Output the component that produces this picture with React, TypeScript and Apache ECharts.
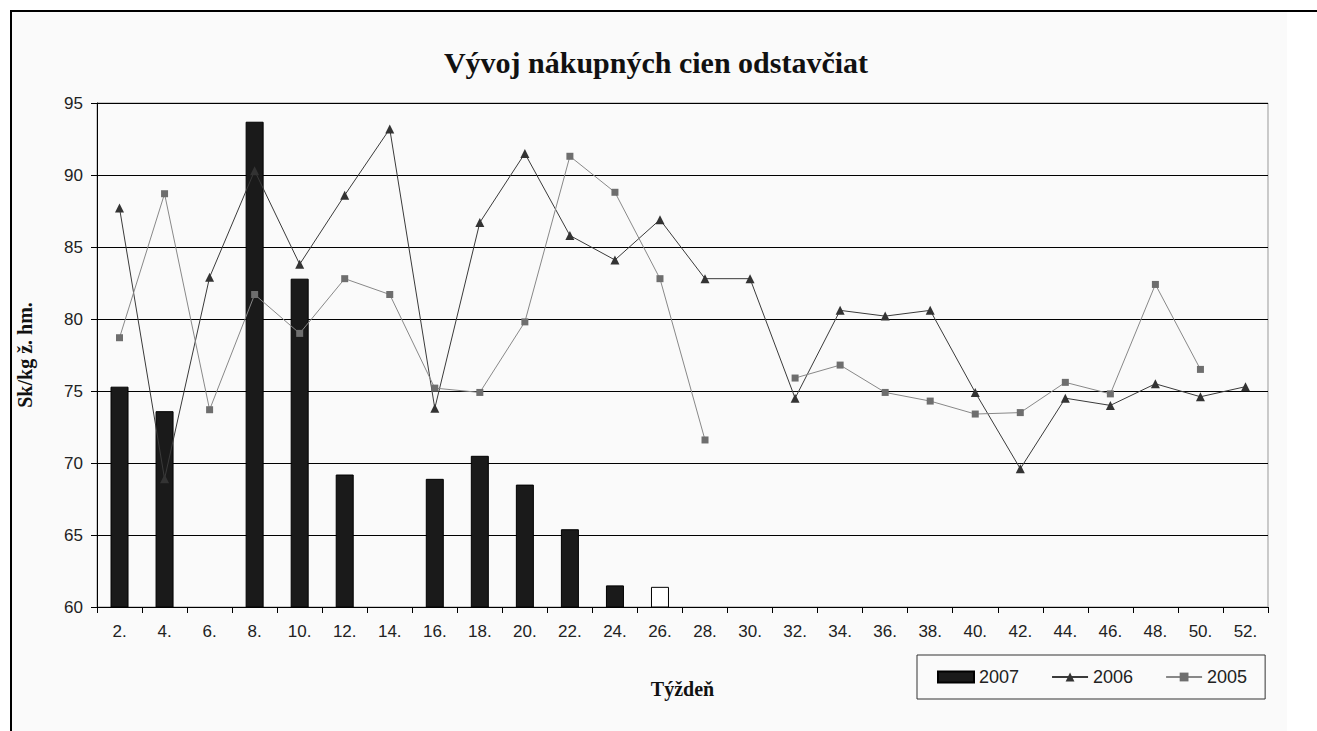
import React, { useEffect, useRef } from "react";
import * as echarts from "echarts";

const weeks = ["2.", "4.", "6.", "8.", "10.", "12.", "14.", "16.", "18.", "20.", "22.", "24.", "26.", "28.", "30.", "32.", "34.", "36.", "38.", "40.", "42.", "44.", "46.", "48.", "50.", "52."];

const values2007: (number | null)[] = [75.3, 73.6, null, 93.7, 82.8, 69.2, null, 68.9, 70.5, 68.5, 65.4, 61.5, 61.4, null, null, null, null, null, null, null, null, null, null, null, null, null];

const values2006: (number | null)[] = [87.7, 68.9, 82.9, 90.3, 83.8, 88.6, 93.2, 73.8, 86.7, 91.5, 85.8, 84.1, 86.9, 82.8, 82.8, 74.5, 80.6, 80.2, 80.6, 74.9, 69.6, 74.5, 74.0, 75.5, 74.6, 75.3];

const values2005: (number | null)[] = [78.7, 88.7, 73.7, 81.7, 79.0, 82.8, 81.7, 75.2, 74.9, 79.8, 91.3, 88.8, 82.8, 71.6, null, 75.9, 76.8, 74.9, 74.3, 73.4, 73.5, 75.6, 74.8, 82.4, 76.5, null];

const yTicks = { min: 60, max: 95, interval: 5 };

const sans = "'Liberation Sans', Arial, sans-serif";
const serif = "'Liberation Serif', 'Times New Roman', serif";

export default function App() {
  const ref = useRef<HTMLDivElement>(null);

  useEffect(() => {
    if (!ref.current) return;
    const chart = echarts.init(ref.current, undefined, { renderer: "svg" });

    const barData = values2007.map((v, i) => {
      if (v === null) return null;
      if (weeks[i] === "26.") {
        return { value: v, itemStyle: { color: "#ffffff", borderColor: "#000", borderWidth: 1 } };
      }
      return v;
    });

    chart.setOption({
      animation: false,
      backgroundColor: "#ffffff",
      graphic: [
        { type: "rect", shape: { x: 12, y: 12, width: 1275, height: 719 }, style: { fill: "#fafafa" }, z: -10, silent: true },
        { type: "line", shape: { x1: 10, y1: 11, x2: 1317, y2: 11 }, style: { stroke: "#000", lineWidth: 2 }, z: 100 },
        { type: "line", shape: { x1: 11, y1: 10, x2: 11, y2: 731 }, style: { stroke: "#000", lineWidth: 2 }, z: 100 },
      ],
      title: {
        text: "Vývoj nákupných cien odstavčiat",
        left: 651,
        textAlign: "center",
        top: 42,
        textStyle: { fontFamily: serif, fontWeight: "bold", fontSize: 30, color: "#111" },
      },
      legend: {
        left: 917,
        top: 655,
        padding: [13, 18, 13, 20],
        itemWidth: 36,
        itemHeight: 11,
        itemGap: 32,
        borderColor: "#333",
        borderWidth: 1,
        textStyle: { fontFamily: sans, fontSize: 18, color: "#222" },
        data: [{ name: "2007", icon: "rect" }, "2006", "2005"],
      },
      grid: {
        left: 97,
        right: 49,
        top: 103,
        bottom: 124,
        show: true,
        borderColor: "#999",
        borderWidth: 1,
        backgroundColor: "transparent",
      },
      xAxis: {
        type: "category",
        data: weeks,
        boundaryGap: true,
        name: "Týždeň",
        nameLocation: "middle",
        nameGap: 72,
        nameTextStyle: { fontFamily: serif, fontWeight: "bold", fontSize: 20, color: "#111" },
        axisLine: { show: true, lineStyle: { color: "#000", width: 1 } },
        axisTick: { show: true, length: 6, lineStyle: { color: "#000" } },
        axisLabel: { fontFamily: sans, fontSize: 17, color: "#222", margin: 16 },
        splitLine: { show: false },
      },
      yAxis: {
        type: "value",
        min: yTicks.min,
        max: yTicks.max,
        interval: yTicks.interval,
        name: "Sk/kg ž. hm.",
        nameLocation: "middle",
        nameGap: 62,
        nameTextStyle: { fontFamily: serif, fontWeight: "bold", fontSize: 20, color: "#111" },
        axisLine: { show: true, lineStyle: { color: "#000", width: 1 } },
        axisTick: { show: true, length: 6, lineStyle: { color: "#000" } },
        axisLabel: { fontFamily: sans, fontSize: 17, color: "#222", margin: 14 },
        splitLine: { show: true, lineStyle: { color: "#000", width: 1.2 } },
      },
      series: [
        {
          name: "2007",
          type: "bar",
          data: barData,
          barWidth: 18,
          itemStyle: { color: "#1a1a1a", borderColor: "#000", borderWidth: 1 },
        },
        {
          name: "2006",
          type: "line",
          data: values2006,
          symbol: "triangle",
          symbolSize: 9,
          lineStyle: { color: "#3a3a3a", width: 1 },
          itemStyle: { color: "#333" },
          connectNulls: false,
          z: 3,
        },
        {
          name: "2005",
          type: "line",
          data: values2005,
          symbol: "rect",
          symbolSize: 7,
          lineStyle: { color: "#888", width: 1 },
          itemStyle: { color: "#6e6e6e" },
          connectNulls: false,
          z: 3,
        },
      ],
    });

    return () => chart.dispose();
  }, []);

  return (
    <div style={{ position: "fixed", left: 0, top: 0, width: 1317, height: 731, background: "#fff" }}>
      <div ref={ref} style={{ width: 1317, height: 731 }} />
    </div>
  );
}
